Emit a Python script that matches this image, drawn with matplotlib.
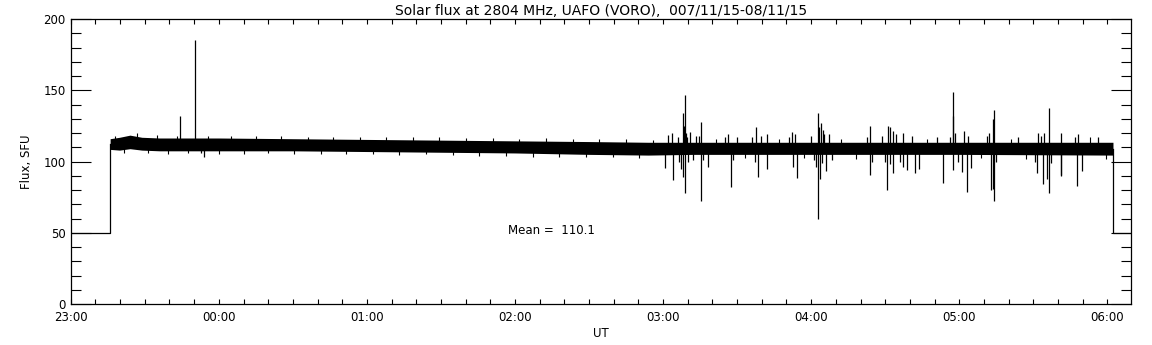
import numpy as np
import matplotlib
matplotlib.use('Agg')
from matplotlib import pyplot as plt
from matplotlib.ticker import MultipleLocator

##################################################
# Data (time in hours after 23:00 UT, flux in SFU)

hour_labels = ['23:00', '00:00', '01:00', '02:00', '03:00', '04:00', '05:00', '06:00']

# receiver off: flat 50 SFU before start and after stop
pre_t = [0.0, 0.266, 0.266]
pre_v = [50, 50, 112]
post_t = [7.038, 7.038, 7.16]
post_v = [109, 50, 50]

# noise band envelope of the quiet sun record
band_t = [0.266, 0.33, 0.40, 0.48, 0.60, 1.00, 1.50, 2.00, 2.50, 3.00, 3.50, 3.90, 4.20, 5.00, 6.00, 7.038]
band_hi = [116.0, 117.0, 118.5, 117.0, 116.5, 116.5, 116.0, 115.5, 115.0, 114.5, 114.0, 113.5, 113.5, 113.5, 113.5, 113.5]
band_lo = [108.5, 108.0, 109.0, 108.0, 107.5, 107.5, 107.5, 107.0, 106.5, 106.0, 105.0, 104.5, 105.0, 105.0, 105.0, 104.5]

# small excursions on the edges of the band
fringe_t = [0.30, 0.36, 0.45, 0.52, 0.58, 0.66, 0.72, 0.79, 0.93, 1.00, 1.08, 1.17, 1.25, 1.33,
            1.42, 1.51, 1.60, 1.69, 1.77, 1.86, 1.95, 2.04, 2.13, 2.22, 2.31, 2.40, 2.49, 2.58,
            2.67, 2.76, 2.85, 2.94, 3.03, 3.12, 3.21, 3.30, 3.39, 3.48, 3.57, 3.66, 3.75, 3.84,
            3.93, 4.36, 4.55, 4.78, 4.95, 5.20, 5.30, 5.78, 6.15, 6.35, 6.45, 6.88, 6.99]
fringe_v = [118, 106, 120, 106, 118.5, 105, 118, 106, 118, 105.5, 118, 105.5, 118, 106,
            118, 105, 117.5, 105.5, 117.5, 105, 117.5, 105.5, 117, 104.5, 117, 105, 117, 104.5,
            116.5, 104, 116.5, 104, 116, 103, 116.5, 103.5, 116, 103, 115.5, 103, 115.5, 102.5,
            115, 116, 102.5, 116, 102.5, 116, 102, 116, 102.5, 116, 102, 117, 102]

# bursts / interference spikes
spike_t = [0.741, 0.842, 0.880, 0.897,
           4.016, 4.031, 4.060, 4.070, 4.100, 4.110, 4.120, 4.132, 4.132, 4.140, 4.146, 4.146,
           4.152, 4.160, 4.170, 4.180, 4.200, 4.220, 4.240, 4.254, 4.254, 4.270, 4.300,
           4.420, 4.440, 4.457, 4.470, 4.500, 4.600, 4.620, 4.630, 4.640, 4.660, 4.700, 4.700,
           4.850, 4.870, 4.876, 4.890, 4.903, 5.000, 5.020, 5.030, 5.043, 5.043, 5.050, 5.060,
           5.068, 5.075, 5.080, 5.090, 5.103, 5.120, 5.140, 5.380, 5.396, 5.396, 5.410,
           5.480, 5.500, 5.509, 5.520, 5.530, 5.535, 5.550, 5.550, 5.570, 5.600, 5.617, 5.617,
           5.650, 5.680, 5.700, 5.730, 5.850, 5.889, 5.940, 5.955, 5.961, 5.961, 5.970, 5.990,
           6.020, 6.030, 6.049, 6.060, 6.081, 6.190, 6.200, 6.216, 6.225, 6.225, 6.234, 6.234,
           6.250, 6.400, 6.510, 6.522, 6.530, 6.550, 6.565, 6.575, 6.590, 6.606, 6.606, 6.620,
           6.684, 6.684, 6.690, 6.780, 6.797, 6.800, 6.830, 6.940]
spike_v = [132, 185.3, 106, 103.4,
           95.2, 118.6, 120, 87, 117, 100, 95, 133.8, 89, 125, 146.7, 77.7,
           120, 117, 100, 121, 101, 118, 118, 128, 72.5, 101, 96,
           117, 119.3, 82.3, 101, 117, 117, 100, 124.3, 89.3, 118, 119.3, 94.7,
           117, 120.5, 96, 119, 88.7, 118, 101, 96, 133.8, 59.4, 124, 88,
           127.2, 99, 122, 119, 93.5, 119, 101, 117, 125, 90.5, 100,
           118, 100, 80, 124.8, 98, 124, 121.7, 91.6, 119, 100, 119.8, 96.4,
           94, 118, 91.7, 95, 117, 84.7, 117, 132, 148.5, 94, 120, 100,
           92.9, 121.3, 78.8, 118, 95.2, 118, 120.2, 80, 129.6, 81, 136.1, 72.5,
           100, 117, 100, 92.2, 120.2, 118, 84.2, 120.2, 88, 137.3, 78.1, 99,
           89.8, 120.2, 90.5, 117, 82.8, 119.3, 93.5, 117]
spike_base = 109.5

mean_flux = 110.1

##################################################
# Plot

fig = plt.figure(figsize=(11.52, 3.45), dpi=100)
ax = fig.add_axes([0.0614, 0.1188, 0.9204, 0.8261])

ax.plot(pre_t, pre_v, color='black', lw=0.9)
ax.plot(post_t, post_v, color='black', lw=0.9)
ax.fill_between(band_t, band_lo, band_hi, color='black', lw=0)
ax.vlines(fringe_t, spike_base, fringe_v, color='black', lw=0.8)
ax.vlines(spike_t, spike_base, spike_v, color='black', lw=0.9)

ax.text(2.953, 51.5, 'Mean =  %.1f' % mean_flux, fontsize=8.5, va='center', ha='left')

ax.set_xlim(0, 7.16)
ax.set_ylim(0, 200)
ax.set_xticks(range(len(hour_labels)))
ax.set_xticklabels(hour_labels)
ax.xaxis.set_minor_locator(MultipleLocator(1 / 6))
ax.yaxis.set_major_locator(MultipleLocator(50))
ax.yaxis.set_minor_locator(MultipleLocator(10))

ax.tick_params(axis='both', which='both', direction='in', width=0.8, labelsize=8.5,
               top=True, right=True, colors='black')
ax.tick_params(axis='y', which='major', length=14.4)
ax.tick_params(axis='y', which='minor', length=7.2)
ax.tick_params(axis='x', which='both', length=3.6, pad=5)
for s in ax.spines.values():
	s.set_linewidth(0.9)

ax.set_xlabel('UT', fontsize=8.5, labelpad=2)
ax.set_ylabel('Flux, SFU', fontsize=8.5, labelpad=8)
ax.set_title('Solar flux at 2804 MHz, UAFO (VORO),  007/11/15-08/11/15', fontsize=10, pad=3)

fig.savefig('out.png', dpi=100)
